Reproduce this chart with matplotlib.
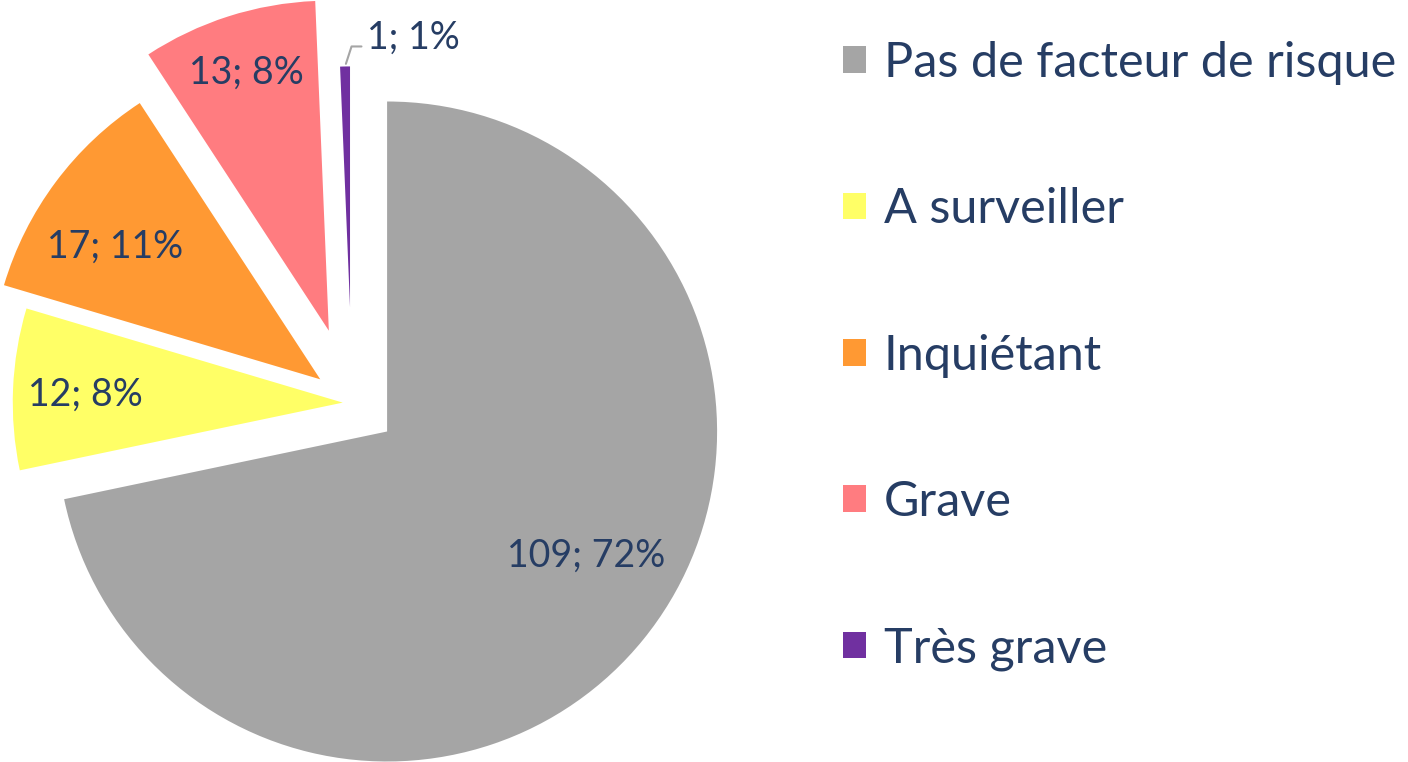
import numpy as np
import matplotlib.pyplot as plt

# ---------- data ----------
categories = ['Pas de facteur de risque', 'A surveiller', 'Inquiétant', 'Grave', 'Très grave']
counts = [109, 12, 17, 13, 1]
percents = [72, 8, 11, 8, 1]
colors = ['#A5A5A5', '#FFFF66', '#FF9933', '#FF7C80', '#7030A0']
explode_frac = [0.137, 0.028, 0.12, 0.23, 0.29]

# label placement (fraction of radius, angular shift from slice middle, degrees)
label_frac = [0.71, 0.78, 0.74, 0.82, 0.84]
label_shift = [7.2, 0.6, 3.8, 0.0, -14.4]

TEXT = '#263D64'
plt.rcParams['font.family'] = ['Lato', 'DejaVu Sans']

fig = plt.figure(figsize=(14.08, 7.62), dpi=100)
ax = fig.add_axes([0, 0, 1, 1])

R = 330
cx, cy = 352, 359
wedges, _ = ax.pie(counts, colors=colors, startangle=90, counterclock=False,
                   radius=R, center=(cx, cy),
                   explode=[e * R for e in explode_frac],
                   wedgeprops=dict(linewidth=0))
# the tiny slice is drawn shorter in the original
wedges[4].set_radius(0.73 * R)

ax.set_xlim(0, 1408)
ax.set_ylim(0, 762)
ax.set_aspect('equal')
ax.axis('off')

# ---------- data labels ----------
for i, w in enumerate(wedges):
    mid = np.deg2rad(0.5 * (w.theta1 + w.theta2))
    ang = mid + np.deg2rad(label_shift[i])
    x0, y0 = w.center
    tx = x0 + label_frac[i] * R * np.cos(ang)
    ty = y0 + label_frac[i] * R * np.sin(ang)
    txt = f"{counts[i]}; {percents[i]}%"
    if i < 4:
        ax.text(tx, ty, txt, ha='center', va='center', fontsize=27, color=TEXT)
    else:
        edge = (x0 + w.r * np.cos(mid), y0 + w.r * np.sin(mid))
        ax.annotate(txt, xy=edge, xytext=(tx, ty), ha='center', va='center',
                    fontsize=27, color=TEXT,
                    arrowprops=dict(arrowstyle='-', color='#A5A5A5', lw=1.5,
                                    shrinkA=2, shrinkB=2, relpos=(0, 0.25),
                                    connectionstyle='angle,angleA=0,angleB=72,rad=0'))

# ---------- legend ----------
ax.legend(wedges, categories, loc='upper left', bbox_to_anchor=(843, 762 - 41),
          bbox_transform=ax.transData, frameon=False, fontsize=35,
          handlelength=0.47, handleheight=0.47, handletextpad=0.37,
          labelspacing=2.105, borderpad=0, borderaxespad=0, labelcolor=TEXT)

fig.savefig('out.png', dpi=100)
